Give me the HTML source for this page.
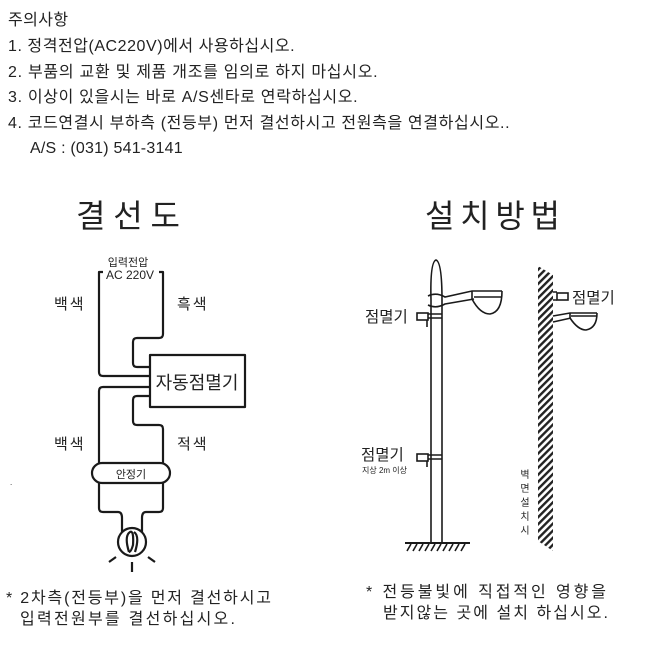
<!DOCTYPE html>
<html><head><meta charset="utf-8"><style>
html,body{margin:0;padding:0;background:#fff;}
svg{display:block;}
text{font-family:"Liberation Sans","Noto Sans CJK KR",sans-serif;fill:#222;}
</style></head><body>
<svg width="659" height="657" viewBox="0 0 659 657" xmlns="http://www.w3.org/2000/svg">
<defs>
<pattern id="hatch" width="5" height="5" patternUnits="userSpaceOnUse" patternTransform="rotate(45)">
<rect width="5" height="5" fill="#fff"/><rect width="2.4" height="5" fill="#222"/>
</pattern>
</defs>
<g font-size="16" letter-spacing="0.4">
<text x="8" y="25">주의사항</text>
<text x="8" y="51" textLength="287" lengthAdjust="spacing">1. 정격전압(AC220V)에서 사용하십시오.</text>
<text x="8" y="77" textLength="370" lengthAdjust="spacing">2. 부품의 교환 및 제품 개조를 임의로 하지 마십시오.</text>
<text x="8" y="102" textLength="350" lengthAdjust="spacing">3. 이상이 있을시는 바로 A/S센타로 연락하십시오.</text>
<text x="8" y="128" textLength="502" lengthAdjust="spacing">4. 코드연결시 부하측 (전등부) 먼저 결선하시고 전원측을 연결하십시오..</text>
<text x="30" y="153" textLength="153" lengthAdjust="spacing">A/S : (031) 541-3141</text>
</g>
<text x="76" y="227" font-size="32" textLength="104" lengthAdjust="spacing">결선도</text>
<text x="425" y="227" font-size="32" textLength="135" lengthAdjust="spacing">설치방법</text>

<!-- wiring diagram -->
<g fill="none" stroke="#1a1a1a" stroke-width="2.2" stroke-linejoin="round">
<path d="M103,272 H99 V372 Q99,376 103,376 H150"/>
<path d="M159,272 H163 V334 Q163,338 159,338 H137 Q133,338 133,342 V363 Q133,367 137,367 H150"/>
<rect x="150" y="355" width="95" height="52"/>
<path d="M150,387 H103 Q99,387 99,391 V463"/>
<path d="M150,396 H137 Q133,396 133,400 V421 Q133,425 137,425 H159 Q163,425 163,429 V463"/>
<rect x="92" y="463" width="78" height="20" rx="10"/>
<path d="M99,483 V508 Q99,512 103,512 H118 Q122,512 122,518 V532"/>
<path d="M163,483 V508 Q163,512 159,512 H146 Q142,512 142,518 V532"/>
<circle cx="132" cy="542" r="14"/>
<path d="M129,552 Q124,536 130,532 Q134,530 133,545 Q131,552 129,552 M135,552 Q140,536 134,532"/>
<path d="M132,562 V572 M116,557 L109,562 M148,557 L155,562"/>
</g>
<text x="128" y="266" font-size="11" text-anchor="middle">입력전압</text>
<text x="130" y="279" font-size="12" text-anchor="middle">AC 220V</text>
<text x="54" y="309" font-size="15" letter-spacing="2">백색</text>
<text x="177" y="309" font-size="15" letter-spacing="2">흑색</text>
<text x="54" y="449" font-size="15" letter-spacing="2">백색</text>
<text x="177" y="449" font-size="15" letter-spacing="2">적색</text>
<text x="197" y="389" font-size="18" text-anchor="middle">자동점멸기</text>
<text x="131" y="478" font-size="11" text-anchor="middle">안정기</text>
<text x="10" y="485" font-size="8">.</text>

<!-- pole -->
<g fill="none" stroke="#1a1a1a" stroke-width="1.6">
<path d="M431,300 Q430,262 436,260 Q442,262 442,300"/>
<path d="M431,300 V542 M442,300 V542"/>
<path d="M428,296 Q436,292 445,297 L472,291 H502 M428,305 Q436,309 445,304 L474,299"/>
<path d="M472,291 V299 Q480,314 490,314 Q502,312 502,291 M474,297 H502"/>
<rect x="417" y="313" width="11" height="7"/>
<path d="M428,314 H442 M428,318 H442 M427,320 V327"/>
<rect x="417" y="454" width="11" height="7"/>
<path d="M428,455 H442 M428,459 H442 M427,461 V467"/>
<path d="M405,543 H470" stroke-width="2"/>
<path d="M407,551 L411,544 M413,551 L417,544 M419,551 L423,544 M425,551 L429,544 M431,551 L435,544 M437,551 L441,544 M443,551 L447,544 M449,551 L453,544 M455,551 L459,544 M461,551 L465,544"/>
</g>
<text x="365" y="322" font-size="15.5">점멸기</text>
<text x="361" y="460" font-size="15.5">점멸기</text>
<text x="362" y="473" font-size="8">지상 2m 이상</text>

<!-- wall -->
<polygon points="538,266 553,275 553,551 538,541" fill="url(#hatch)"/>
<g fill="none" stroke="#1a1a1a" stroke-width="1.6">
<rect x="557" y="293" width="11" height="7"/>
<path d="M553,292 H557 M553,300 H557"/>
<path d="M553,316 L570,313 H597 M553,322 L571,318"/>
<path d="M570,313 V318 Q578,330 586,330 Q597,328 597,313 M571,316 H597"/>
</g>
<text x="572" y="303" font-size="15.5">점멸기</text>
<g font-size="10" text-anchor="middle">
<text x="525" y="478">벽</text>
<text x="525" y="492">면</text>
<text x="525" y="506">설</text>
<text x="525" y="520">치</text>
<text x="525" y="534">시</text>
</g>

<g font-size="16">
<text x="6" y="603" textLength="265" lengthAdjust="spacing">* 2차측(전등부)을 먼저 결선하시고</text>
<text x="20" y="624" textLength="215" lengthAdjust="spacing">입력전원부를 결선하십시오.</text>
<text x="366" y="597" textLength="240" lengthAdjust="spacing">* 전등불빛에 직접적인 영향을</text>
<text x="383" y="618" textLength="225" lengthAdjust="spacing">받지않는 곳에 설치 하십시오.</text>
</g>
</svg>
</body></html>
